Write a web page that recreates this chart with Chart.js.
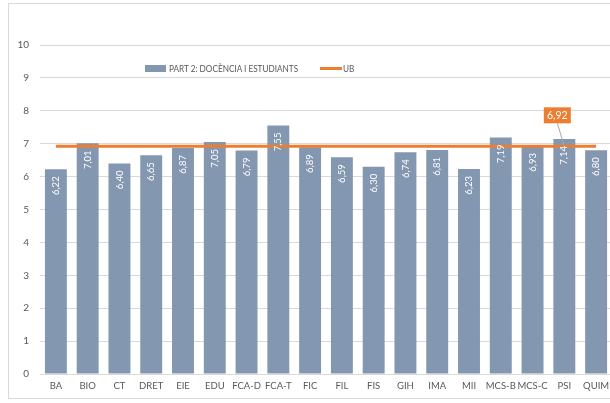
<!DOCTYPE html>
<html>
<head>
<meta charset="utf-8">
<script src="https://cdn.jsdelivr.net/npm/chart.js@4/dist/chart.umd.min.js"></script>
<style>
  html, body { margin: 0; padding: 0; background: #fff; overflow: hidden; }
  #wrap { position: relative; width: 610px; height: 403px; overflow: hidden; }
  #frame { position: absolute; left: 8px; top: 3px; width: 640px; height: 396px; border: 1px solid #d9d9d9; box-sizing: border-box; }
  #box { position: absolute; left: 0; top: 0; width: 622px; height: 403px; }
  .legend { position: absolute; top: 61px; font: 10px Lato, sans-serif; color: #595959; white-space: nowrap; line-height: 14px; }
  .sw { display: inline-block; vertical-align: middle; margin-right: 3px; }
  .squeeze { display: inline-block; transform: scaleX(0.82); transform-origin: left center; }
</style>
</head>
<body>
<div id="wrap">
  <div id="frame"></div>
  <div id="box"><canvas id="chart" width="622" height="403"></canvas></div>
  <div class="legend" style="left:145px"><span class="sw" style="width:21px;height:7px;background:#8497b0;margin-top:-2px"></span><span class="squeeze">PART 2: DOCÈNCIA I ESTUDIANTS</span></div>
  <div class="legend" style="left:320px"><span class="sw" style="width:22px;height:3px;background:#ed7d31;margin-top:-2px;margin-right:1px"></span><span class="squeeze">UB</span></div>
</div>
<script>
const categories = ['BA', 'BIO', 'CT', 'DRET', 'EIE', 'EDU', 'FCA-D', 'FCA-T', 'FIC', 'FIL', 'FIS', 'GIH', 'IMA', 'MII', 'MCS-B', 'MCS-C', 'PSI', 'QUIM'];
const part2Values = [6.22, 7.01, 6.40, 6.65, 6.87, 7.05, 6.79, 7.55, 6.89, 6.59, 6.30, 6.74, 6.81, 6.23, 7.19, 6.93, 7.14, 6.80];
const ubValue = 6.92;
const ubValues = categories.map(() => ubValue);
const yTicks = [0, 1, 2, 3, 4, 5, 6, 7, 8, 9, 10];
const calloutIndex = 16;

const fmt = v => v.toFixed(2).replace('.', ',');

// white rotated value labels inside the bars
const barLabels = {
  id: 'barLabels',
  afterDatasetsDraw(chart) {
    const meta = chart.getDatasetMeta(1);
    const c = chart.ctx;
    c.save();
    c.fillStyle = '#ffffff';
    c.font = '9.5px Lato, sans-serif';
    c.textAlign = 'right';
    c.textBaseline = 'middle';
    meta.data.forEach((bar, i) => {
      c.save();
      c.translate(bar.x, bar.y + 7);
      c.rotate(-Math.PI / 2);
      c.fillText(fmt(part2Values[i]), 0, 0);
      c.restore();
    });
    c.restore();
  }
};

// orange callout for the UB value
const ubCallout = {
  id: 'ubCallout',
  afterDraw(chart) {
    const pt = chart.getDatasetMeta(0).data[calloutIndex];
    const c = chart.ctx;
    const bx = pt.x - 7, by = pt.y - 31;
    c.save();
    c.strokeStyle = '#a6a6a6';
    c.lineWidth = 1;
    c.beginPath();
    c.moveTo(pt.x, pt.y);
    c.lineTo(bx, by + 8);
    c.stroke();
    c.fillStyle = '#ed7d31';
    c.fillRect(bx - 13.5, by - 8, 27, 16);
    c.fillStyle = '#ffffff';
    c.font = '10.5px Lato, sans-serif';
    c.textAlign = 'center';
    c.textBaseline = 'middle';
    c.fillText(fmt(ubValue), bx, by);
    c.restore();
  }
};

new Chart(document.getElementById('chart'), {
  data: {
    labels: categories,
    datasets: [
      {
        type: 'line',
        label: 'UB',
        data: ubValues,
        borderColor: '#ed7d31',
        borderWidth: 3,
        pointRadius: 0,
        fill: false,
        order: 0
      },
      {
        type: 'bar',
        label: 'PART 2: DOCÈNCIA I ESTUDIANTS',
        data: part2Values,
        backgroundColor: '#8497b0',
        categoryPercentage: 1,
        barPercentage: 0.69,
        order: 1
      }
    ]
  },
  options: {
    responsive: false,
    animation: false,
    layout: { padding: { top: 45, left: 8, right: 10, bottom: 0 } },
    plugins: { legend: { display: false }, tooltip: { enabled: false } },
    scales: {
      x: {
        grid: { display: false, drawTicks: false },
        border: { color: '#d9d9d9' },
        ticks: { color: '#595959', font: { family: 'Lato', size: 9.5 }, padding: 6, maxRotation: 0, autoSkip: false },
        afterFit: s => { s.height = 29; }
      },
      y: {
        min: 0,
        max: 10,
        afterBuildTicks: s => { s.ticks = yTicks.map(v => ({ value: v })); },
        grid: { color: '#d9d9d9', drawTicks: false },
        border: { display: false },
        ticks: { color: '#595959', font: { family: 'Lato', size: 10 }, padding: 11 },
        afterFit: s => { s.width = 32; }
      }
    }
  },
  plugins: [barLabels, ubCallout]
});
</script>
</body>
</html>
